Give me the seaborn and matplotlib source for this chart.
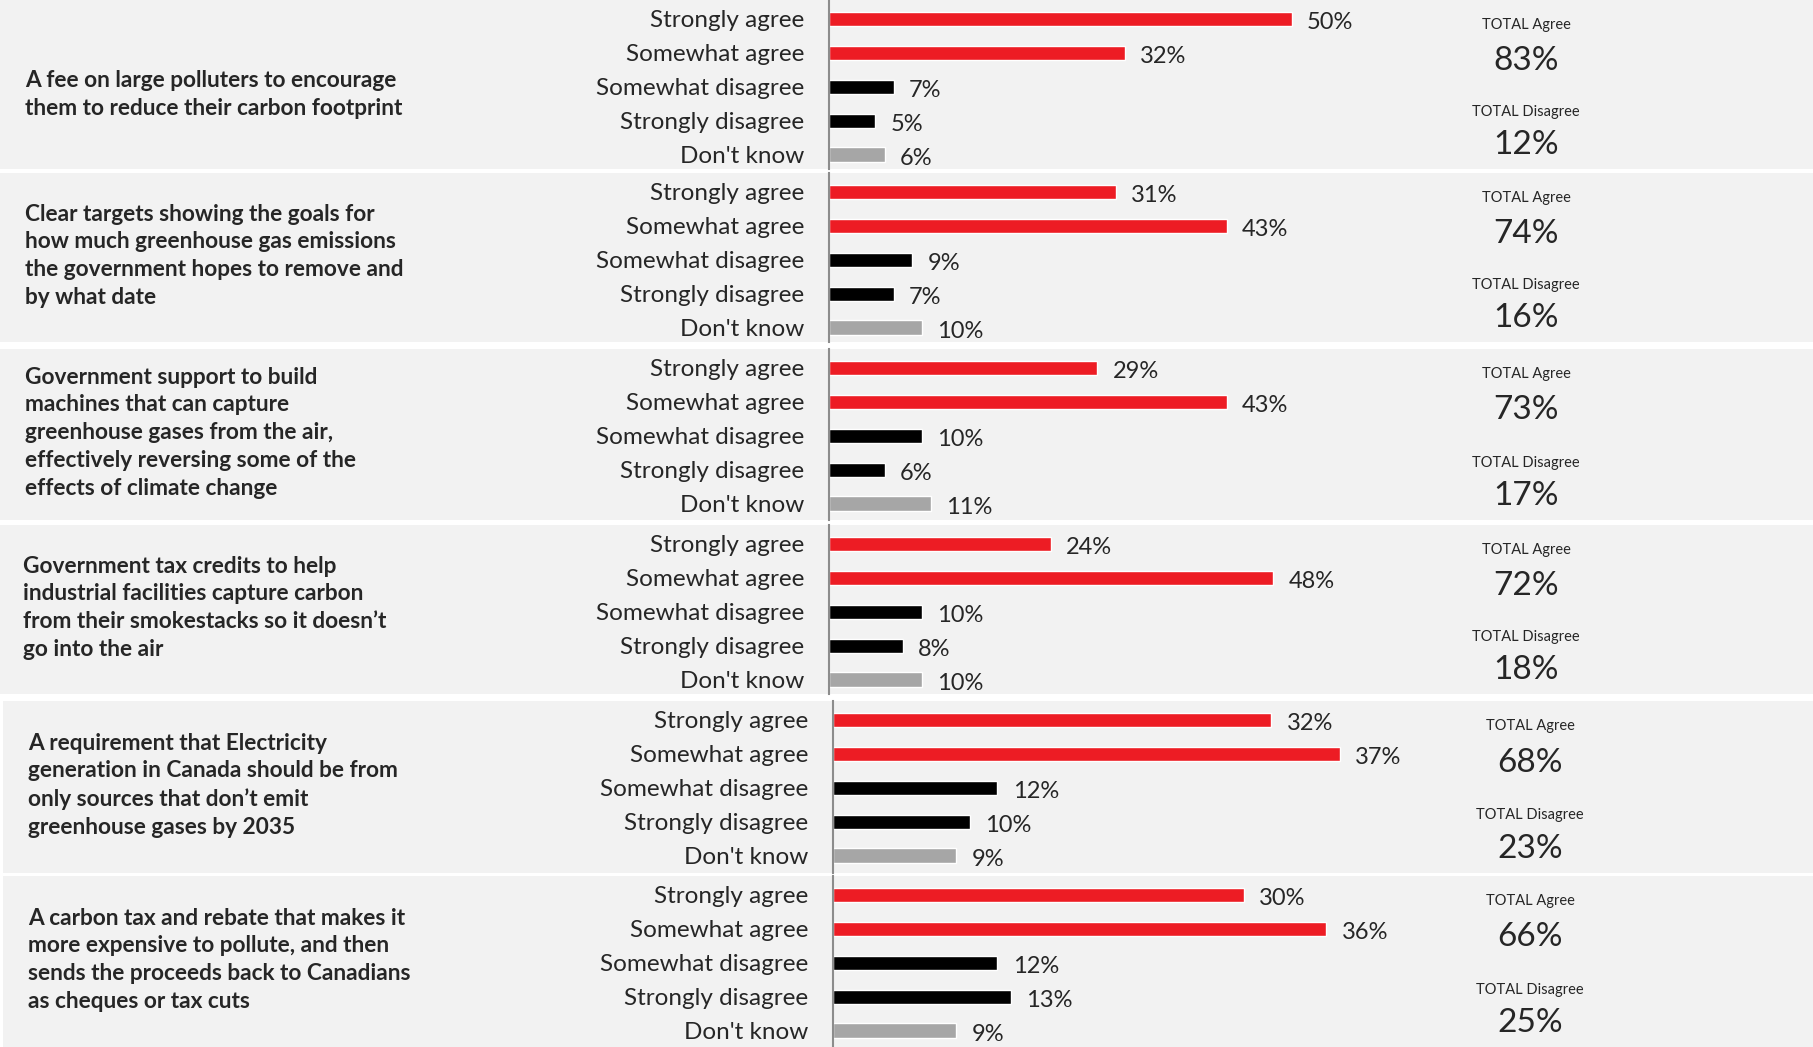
import numpy as np
import pandas as pd
import seaborn as sns
import matplotlib.pyplot as plt

# ---- DATA ----
responses = ["Strongly agree", "Somewhat agree", "Somewhat disagree", "Strongly disagree", "Don't know"]

questions = [
    "A fee on large polluters to encourage\nthem to reduce their carbon footprint",
    "Clear targets showing the goals for\nhow much greenhouse gas emissions\nthe government hopes to remove and\nby what date",
    "Government support to build\nmachines that can capture\ngreenhouse gases from the air,\neffectively reversing some of the\neffects of climate change",
    "Government tax credits to help\nindustrial facilities capture carbon\nfrom their smokestacks so it doesn\u2019t\ngo into the air",
    "A requirement that Electricity\ngeneration in Canada should be from\nonly sources that don\u2019t emit\ngreenhouse gases by 2035",
    "A carbon tax and rebate that makes it\nmore expensive to pollute, and then\nsends the proceeds back to Canadians\nas cheques or tax cuts",
]

q1_values = [50, 32, 7, 5, 6]
q2_values = [31, 43, 9, 7, 10]
q3_values = [29, 43, 10, 6, 11]
q4_values = [24, 48, 10, 8, 10]
q5_values = [32, 37, 12, 10, 9]
q6_values = [30, 36, 12, 13, 9]
all_values = [q1_values, q2_values, q3_values, q4_values, q5_values, q6_values]

total_agree = [83, 74, 73, 72, 68, 66]
total_disagree = [12, 16, 17, 18, 23, 25]

# ---- STYLE ----
red = "#ED1C24"
black = "#000000"
grey = "#A6A6A6"
panel_bg = "#F2F2F2"
palette = dict(zip(responses, [red, red, black, black, grey]))

sns.set_theme(style="white")
plt.rcParams["font.family"] = ["Lato", "DejaVu Sans"]

W, H = 1813, 1047
fig = plt.figure(figsize=(W / 100, H / 100), dpi=100)
fig.patch.set_facecolor("white")

# panel layout in pixels
panel_top = [0, 173, 349, 525, 701, 876]
panel_h = [169, 169, 171, 169, 172, 171]
panel_left = [0, 0, 0, 0, 3, 3]
bar_x0 = [829, 829, 829, 829, 833, 833]
px_per_pct = [9.25, 9.25, 9.25, 9.25, 13.7, 13.7]
text_yfrac = [0.56, 0.49, 0.49, 0.49, 0.49, 0.49]
text_x = [25, 25, 25, 23, 28, 28]
total_x = [1526, 1526, 1526, 1526, 1530, 1530]
bar_right = 1400


def fig_rect(left, top, width, height):
    return [left / W, 1 - (top + height) / H, width / W, height / H]


for i, vals in enumerate(all_values):
    top, h = panel_top[i], panel_h[i]
    pw = W - panel_left[i]

    # grey background panel
    bg = fig.add_axes(fig_rect(panel_left[i], top, pw, h))
    bg.set_facecolor(panel_bg)
    bg.set_xticks([])
    bg.set_yticks([])
    for s in bg.spines.values():
        s.set_visible(False)

    # question text
    bg.text((text_x[i] - panel_left[i]) / pw, 1 - text_yfrac[i], questions[i],
            transform=bg.transAxes, ha="left", va="center",
            fontsize=16.3, fontweight="bold", linespacing=1.4)

    # totals
    tx = (total_x[i] - panel_left[i]) / pw
    bg.text(tx, 1 - 25 / 170, "TOTAL Agree", transform=bg.transAxes, ha="center", va="center", fontsize=10.5)
    bg.text(tx, 1 - 61 / 170, f"{total_agree[i]}%", transform=bg.transAxes, ha="center", va="center", fontsize=24)
    bg.text(tx, 1 - 113 / 170, "TOTAL Disagree", transform=bg.transAxes, ha="center", va="center", fontsize=10.5)
    bg.text(tx, 1 - 146 / 170, f"{total_disagree[i]}%", transform=bg.transAxes, ha="center", va="center", fontsize=24)

    # bars
    ax = fig.add_axes(fig_rect(bar_x0[i], top, bar_right - bar_x0[i], h))
    ax.set_facecolor("none")
    df = pd.DataFrame({"response": responses, "value": vals})
    sns.barplot(data=df, x="value", y="response", hue="response", palette=palette,
                order=responses, hue_order=responses, width=0.42, legend=False,
                orient="h", ax=ax, saturation=1)
    for c in ax.containers:
        for p in c:
            ax.annotate(f"{p.get_width():.0f}%", xy=(p.get_width(), p.get_y() + p.get_height() / 2),
                        xytext=(11, -2.5), textcoords="offset points",
                        ha="left", va="center", fontsize=17, annotation_clip=False)

    ax.set_xlim(0, (bar_right - bar_x0[i]) / px_per_pct[i])
    ax.set_ylim(-0.56 + h / 33.9, -0.56)
    ax.set_xlabel("")
    ax.set_ylabel("")
    ax.set_xticks([])
    ax.tick_params(axis="y", length=0, pad=18, labelsize=17.5)
    for side in ["top", "right", "bottom"]:
        ax.spines[side].set_visible(False)
    ax.spines["left"].set_color("#8C8C8C")
    ax.spines["left"].set_linewidth(1.5)

fig.savefig("out.png", dpi=100, facecolor="white")
